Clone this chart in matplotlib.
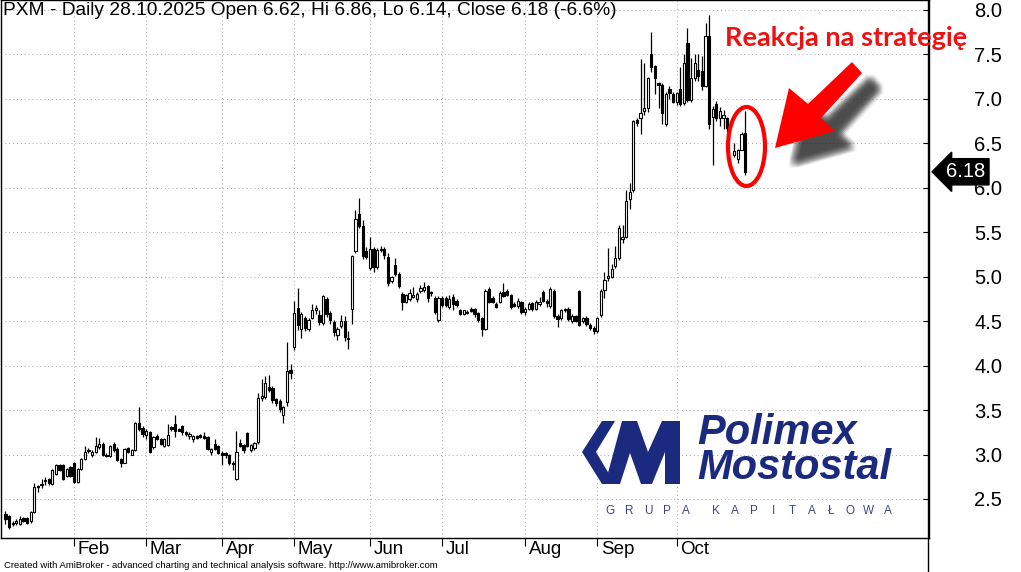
import numpy as np
import pandas as pd
import matplotlib
matplotlib.use("Agg")
import matplotlib.pyplot as plt
import matplotlib.transforms as mtransforms
from matplotlib.patches import Polygon, Ellipse
from matplotlib.lines import Line2D

W, H = 1021, 572

title = "PXM - Daily 28.10.2025 Open 6.62, Hi 6.86, Lo 6.14, Close 6.18 (-6.6%)"
footer = "Created with AmiBroker - advanced charting and technical analysis software. http://www.amibroker.com"
note = "Reakcja na strategię"
holidays = ["2025-04-18", "2025-04-21", "2025-05-01", "2025-06-19", "2025-08-15"]
y_ticks = [2.5, 3.0, 3.5, 4.0, 4.5, 5.0, 5.5, 6.0, 6.5, 7.0, 7.5, 8.0]
last_close = 6.18
nan = float("nan")

# daily OHLC, one line per month (Jan 7 .. Oct 28)
opens = [
    2.33, 2.31, 2.23, 2.23, 2.22, 2.29, 2.29, 2.25, 2.35, 2.65, 2.66, 2.70, 2.73, 2.67, 2.78, 2.88, 2.88, 2.76, 2.86,
    2.91, 2.69, 2.84, 2.95, 3.04, 3.00, 3.03, 3.08, 3.12, 3.00, 2.98, 3.12, 3.06, 2.95, 2.91, 3.07, 3.00, 3.05, 3.36, 3.30,
    3.22, 3.25, 3.08, 3.21, 3.18, 3.10, 3.11, 3.31, 3.34, 3.29, 3.32, 3.25, 3.21, 3.18, 3.21, 3.22, 3.21, 3.20, 3.03, 3.12, 3.10,
    3.02, 3.02, 3.00, 2.91, 2.73, 3.13, 3.11, 3.24, 3.05, 3.07, 3.14, 3.64, 3.65, 3.76, 3.75, 3.62, 3.60, 3.44, 3.59, 3.95,
    4.21, 4.65, 4.41, 4.53, 4.41, 4.54, 4.62, 4.57, 4.48, 4.75, 4.59, 4.49, 4.34, 4.45, 4.50, 4.31, 4.64, 5.29, 5.70, 5.57, 5.29,
    5.10, 5.31, 5.11, 5.30, 5.31, 5.22, 4.95, 5.13, 5.03, 4.80, 4.72, 4.75, 4.77, 4.75, 4.84, 4.85, 4.90, 4.83, 4.76, 4.51,
    4.76, 4.76, 4.66, 4.77, 4.73, 4.62, 4.58, 4.59, 4.64, 4.64, 4.59, 4.53, 4.41, 4.86, 4.76, 4.69, 4.71, 4.83, 4.84, 4.79, 4.69, 4.67, 4.71,
    4.60, 4.64, 4.70, 4.64, 4.69, 4.83, 4.73, 4.67, 4.84, 4.56, 4.53, 4.62, 4.64, 4.50, 4.56, 4.84, 4.50, 4.54, 4.46, 4.42,
    4.39, 4.57, 4.85, 4.98, 5.00, 5.12, 5.21, 5.42, 5.45, 5.87, 5.97, 6.76, 6.78, 6.86, 6.90, 7.51, 7.37, 7.18, 7.16, 6.72, 7.11, 7.06,
    6.97, 7.11, 6.95, 7.63, 6.99, 7.23, 7.32, 7.31, 7.15, 7.71, 6.80, 6.94, 6.79, 6.79, 6.78, nan, 6.37, 6.32, 6.43, 6.62,
]
highs = [
    2.36, 2.32, 2.25, 2.27, 2.31, 2.30, 2.30, 2.36, 2.68, 2.66, 2.72, 2.75, 2.74, 2.84, 2.89, 2.89, 2.89, 2.85, 2.87,
    2.92, 2.85, 2.96, 3.10, 3.07, 3.05, 3.20, 3.19, 3.14, 3.02, 3.11, 3.14, 3.08, 2.96, 3.07, 3.09, 3.06, 3.37, 3.54, 3.32,
    3.29, 3.27, 3.21, 3.23, 3.19, 3.19, 3.34, 3.32, 3.44, 3.30, 3.33, 3.26, 3.25, 3.22, 3.22, 3.23, 3.25, 3.21, 3.07, 3.17, 3.11,
    3.04, 3.03, 3.01, 2.93, 3.26, 3.17, 3.12, 3.25, 3.12, 3.14, 3.69, 3.85, 3.88, 3.89, 3.77, 3.64, 3.62, 3.55, 4.27, 4.02,
    4.73, 4.87, 4.60, 4.56, 4.53, 4.69, 4.68, 4.63, 4.79, 4.77, 4.61, 4.51, 4.43, 4.57, 4.56, 4.39, 5.24, 5.75, 5.88, 5.64, 5.33,
    5.45, 5.33, 5.32, 5.34, 5.33, 5.27, 5.01, 5.21, 5.05, 4.83, 4.81, 4.86, 4.88, 4.83, 4.91, 4.94, 4.91, 4.84, 4.78, 4.78,
    4.78, 4.78, 4.79, 4.80, 4.75, 4.64, 4.63, 4.62, 4.66, 4.65, 4.60, 4.55, 4.86, 4.88, 4.78, 4.71, 4.84, 4.93, 4.86, 4.81, 4.72, 4.76, 4.73,
    4.66, 4.71, 4.72, 4.74, 4.77, 4.85, 4.75, 4.88, 4.86, 4.58, 4.64, 4.65, 4.66, 4.58, 4.57, 4.85, 4.55, 4.56, 4.48, 4.44,
    4.55, 4.86, 5.05, 5.32, 5.14, 5.35, 5.58, 5.58, 5.97, 6.05, 6.76, 6.78, 7.45, 7.40, 7.25, 7.75, 7.38, 7.19, 7.18, 7.08, 7.14, 7.08,
    7.08, 7.36, 7.50, 7.80, 7.46, 7.50, 7.51, 7.48, 7.85, 7.94, 6.92, 6.98, 6.91, 6.88, 6.80, nan, 6.50, 6.44, 6.63, 6.86,
]
lows = [
    2.22, 2.16, 2.20, 2.21, 2.21, 2.24, 2.22, 2.23, 2.34, 2.58, 2.62, 2.66, 2.66, 2.66, 2.77, 2.82, 2.71, 2.75, 2.75,
    2.68, 2.68, 2.83, 2.94, 3.02, 2.97, 3.02, 3.06, 2.98, 2.97, 2.97, 3.03, 2.93, 2.86, 2.90, 3.02, 2.99, 3.04, 3.27, 3.20,
    3.18, 3.02, 3.06, 3.16, 3.11, 3.09, 3.10, 3.27, 3.20, 3.26, 3.22, 3.21, 3.17, 3.14, 3.18, 3.19, 3.18, 3.05, 3.00, 3.05, 3.01,
    2.88, 2.96, 2.88, 2.83, 2.71, 3.08, 3.02, 3.08, 3.03, 3.05, 3.12, 3.60, 3.62, 3.70, 3.58, 3.55, 3.48, 3.36, 3.55, 3.85,
    4.18, 4.40, 4.31, 4.39, 4.39, 4.52, 4.58, 4.46, 4.46, 4.55, 4.47, 4.33, 4.29, 4.42, 4.28, 4.19, 4.47, 5.27, 5.55, 5.20, 5.20,
    5.08, 5.05, 5.09, 5.28, 5.20, 4.90, 4.93, 5.01, 4.87, 4.62, 4.70, 4.73, 4.76, 4.72, 4.82, 4.83, 4.72, 4.78, 4.58, 4.49,
    4.66, 4.66, 4.64, 4.63, 4.66, 4.57, 4.57, 4.58, 4.60, 4.55, 4.49, 4.33, 4.40, 4.70, 4.70, 4.65, 4.70, 4.77, 4.78, 4.64, 4.66, 4.65, 4.58,
    4.57, 4.62, 4.61, 4.62, 4.67, 4.71, 4.66, 4.65, 4.54, 4.43, 4.51, 4.60, 4.50, 4.48, 4.49, 4.45, 4.48, 4.44, 4.40, 4.36,
    4.37, 4.55, 4.76, 4.95, 4.98, 5.10, 5.19, 5.38, 5.43, 5.76, 5.95, 6.70, 6.60, 6.82, 6.85, 7.30, 7.05, 6.90, 6.72, 6.70, 7.00, 6.95,
    6.93, 6.92, 6.93, 6.97, 6.96, 7.20, 7.20, 7.10, 7.13, 6.66, 6.26, 6.75, 6.70, 6.66, 6.63, nan, 6.35, 6.28, 6.42, 6.14,
]
closes = [
    2.27, 2.19, 2.22, 2.25, 2.28, 2.25, 2.23, 2.35, 2.63, 2.63, 2.67, 2.71, 2.68, 2.83, 2.88, 2.83, 2.72, 2.84, 2.76,
    2.69, 2.84, 2.95, 3.03, 3.05, 3.03, 3.10, 3.12, 3.00, 2.98, 3.10, 3.05, 2.94, 2.91, 3.06, 3.03, 3.05, 3.36, 3.29, 3.23,
    3.27, 3.03, 3.20, 3.18, 3.12, 3.18, 3.22, 3.29, 3.26, 3.27, 3.25, 3.23, 3.23, 3.21, 3.19, 3.20, 3.19, 3.06, 3.06, 3.06, 3.02,
    3.00, 3.00, 2.90, 2.89, 3.03, 3.10, 3.05, 3.10, 3.11, 3.13, 3.64, 3.66, 3.80, 3.72, 3.61, 3.58, 3.51, 3.53, 3.94, 3.92,
    4.59, 4.46, 4.58, 4.42, 4.51, 4.62, 4.65, 4.49, 4.78, 4.58, 4.51, 4.38, 4.41, 4.50, 4.32, 4.30, 5.23, 5.65, 5.57, 5.23, 5.22,
    5.31, 5.11, 5.30, 5.31, 5.24, 4.93, 5.00, 5.03, 4.89, 4.71, 4.79, 4.82, 4.79, 4.81, 4.87, 4.88, 4.76, 4.82, 4.60, 4.76,
    4.68, 4.68, 4.75, 4.69, 4.68, 4.58, 4.62, 4.60, 4.61, 4.58, 4.51, 4.41, 4.84, 4.72, 4.71, 4.66, 4.82, 4.78, 4.79, 4.66, 4.67, 4.73, 4.60,
    4.64, 4.69, 4.64, 4.72, 4.72, 4.73, 4.70, 4.86, 4.56, 4.52, 4.62, 4.64, 4.52, 4.56, 4.50, 4.46, 4.54, 4.47, 4.42, 4.39,
    4.53, 4.84, 4.96, 5.01, 5.09, 5.21, 5.55, 5.45, 5.85, 5.95, 6.75, 6.73, 6.84, 6.90, 7.24, 7.36, 7.24, 7.16, 6.84, 7.06, 7.07, 6.97,
    7.07, 6.94, 7.40, 6.99, 7.23, 7.40, 7.26, 7.15, 7.71, 6.72, 6.89, 6.79, 6.86, 6.82, 6.67, nan, 6.41, 6.43, 6.61, 6.18,
]

plt.rcParams["font.family"] = ["Liberation Sans", "DejaVu Sans"]

dates = pd.bdate_range("2025-01-07", "2025-10-28")
dates = dates[~dates.isin(pd.to_datetime(holidays))]
o = np.array(opens)
h = np.array(highs)
l = np.array(lows)
c = np.array(closes)
x = np.arange(len(dates))
ok = ~np.isnan(c)
up = ok & (c >= o)
down = ok & (c < o)

fig = plt.figure(figsize=(W / 100, H / 100), dpi=100)
ax = fig.add_axes([0.0005, 34 / H, 928 / W, 538 / H])


def px(xp, yp):
    # pixel position measured from the top-left corner -> figure fraction
    return (xp / W, 1 - yp / H)


# candles
ax.vlines(x[ok], l[ok], h[ok], color="black", lw=0.9, zorder=2)
bottom = np.minimum(o, c)
height = np.maximum(np.abs(c - o), 0.006)
ax.bar(x[up], height[up], bottom=bottom[up], width=0.62, color="white",
       edgecolor="black", lw=0.8, zorder=3)
ax.bar(x[down], height[down], bottom=bottom[down], width=0.62, color="black",
       edgecolor="black", lw=0.8, zorder=3)

# month ticks at the first session of every month
starts = [i for i in range(1, len(dates)) if dates[i].month != dates[i - 1].month]
ax.set_xticks(starts)
ax.set_xticklabels([])
ax.tick_params(axis="x", direction="out", length=6, width=0.8, color="black")
blend = mtransforms.blended_transform_factory(ax.transData, ax.transAxes)
for i in starts:
    ax.text(i + 1.0, -0.021, dates[i].strftime("%b"), transform=blend,
            ha="left", va="center", fontsize=13.5)

ax.set_xlim(-1.37, 255.8)
ax.set_ylim(2.061, 8.112)
ax.set_yticks(y_ticks)
ax.set_yticklabels(["%.1f" % v for v in y_ticks])
ax.yaxis.tick_right()
ax.tick_params(axis="y", direction="in", length=4, width=0.8, pad=33, labelsize=14.5)
ax.grid(True, color="#a8a8a8", ls=(0, (1, 3)), lw=0.7)
ax.set_axisbelow(True)
for s in ax.spines.values():
    s.set_color("black")
    s.set_linewidth(1.0)

ax.text(0.003, 0.997, title, transform=ax.transAxes, ha="left", va="top", fontsize=13.8)

# last price marker
yb = mtransforms.blended_transform_factory(ax.transAxes, ax.transData)
ax.text(1.019, last_close, "%.2f" % last_close, transform=yb, ha="left", va="center",
        fontsize=14.5, color="white", clip_on=False,
        bbox=dict(boxstyle="larrow,pad=0.18", fc="black", ec="black"))

# right border runs down to the bottom of the picture
fig.add_artist(Line2D([928 / W, 928 / W], [0, 1], color="black", lw=1.0))

fig.text(*px(4, 566), footer, ha="left", va="center", fontsize=6.8)

# logo
navy = "#1b2a7e"
chevron = [(582, 452), (602, 421), (615, 421), (596, 452), (615, 484), (602, 484)]
em = [(605, 484), (622, 421), (637, 421), (648, 452), (662, 421), (680, 421),
      (680, 484), (665, 484), (665, 452), (652, 484), (641, 484), (630, 453), (620, 484)]
for shape in (chevron, em):
    fig.add_artist(Polygon([px(*p) for p in shape], closed=True, fc=navy, ec="none",
                           transform=fig.transFigure))
fig.text(*px(697, 413), "Polimex\nMostostal", fontsize=30, fontweight="bold", style="italic",
         color=navy, ha="left", va="top", linespacing=0.83)
for k, ch in enumerate("GRUPA"):
    fig.text(*px(610 + 19.1 * k, 511), ch, fontsize=8.5, color="#3a4690", ha="center", va="center")
for k, ch in enumerate("KAPITAŁOWA"):
    fig.text(*px(716 + 19.1 * k, 511), ch, fontsize=8.5, color="#3a4690", ha="center", va="center")

# red arrow with a soft shadow
arrow = [(852, 62), (862, 73), (821, 118), (835, 131), (775, 148), (789, 88), (808, 104)]
for dx in range(-4, 5, 2):
    for dy in range(-4, 5, 2):
        sh = [px(a + 18 + dx, b + 16 + dy) for a, b in arrow]
        fig.add_artist(Polygon(sh, closed=True, fc="#222222", ec="none", alpha=0.06,
                               transform=fig.transFigure))
fig.add_artist(Polygon([px(*p) for p in arrow], closed=True, fc="#ff0000", ec="none",
                       transform=fig.transFigure))
fig.add_artist(Ellipse(px(746.5, 146.5), 37 / W, 79 / H, fill=False, ec="#ff0000", lw=3.0,
                       transform=fig.transFigure))
fig.text(*px(725, 46), note, fontsize=19.5, fontweight="bold", color="#ee1111",
         family=["Lato", "DejaVu Sans"], ha="left", va="baseline")

fig.savefig("out.png", dpi=100)
